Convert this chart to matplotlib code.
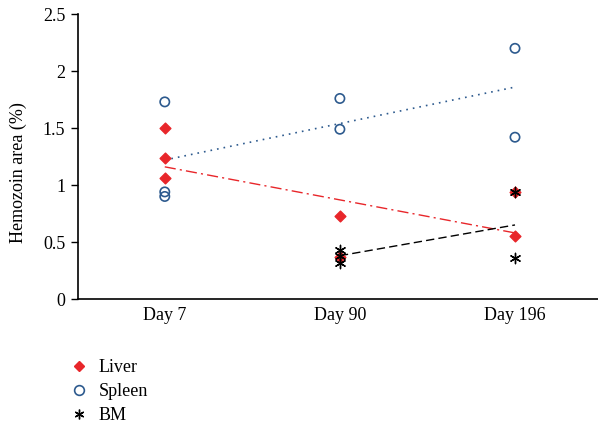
import matplotlib
matplotlib.use("Agg")
import matplotlib.pyplot as plt
from matplotlib.lines import Line2D

plt.rcParams['font.family'] = ['Liberation Serif', 'DejaVu Serif']

categories = ["Day 7", "Day 90", "Day 196"]

liver_x = [0, 0, 0, 1, 1, 2, 2]
liver_y = [1.50, 1.24, 1.06, 0.73, 0.37, 0.55, 0.94]
spleen_x = [0, 0, 0, 1, 1, 2, 2]
spleen_y = [1.73, 0.94, 0.90, 1.76, 1.49, 2.20, 1.42]
bm_x = [1, 1, 1, 2, 2]
bm_y = [0.43, 0.38, 0.32, 0.94, 0.36]

# trend line endpoints
liver_trend_x = [0, 2]
liver_trend_y = [1.16, 0.58]
spleen_trend_x = [0, 2]
spleen_trend_y = [1.22, 1.86]
bm_trend_x = [1, 2]
bm_trend_y = [0.38, 0.65]

fig = plt.figure(figsize=(5.98, 4.29), dpi=100)
ax = fig.add_axes([0.130, 0.303, 0.870, 0.664])

red = '#e8262a'
blue = '#2d5a8e'

ax.plot(spleen_trend_x, spleen_trend_y, linestyle=(0, (1, 3)), color=blue, lw=1.2)
ax.plot(liver_trend_x, liver_trend_y, linestyle=(0, (8, 3, 1.5, 3)), color=red, lw=1.0)
ax.plot(bm_trend_x, bm_trend_y, linestyle=(0, (6, 3)), color='black', lw=1.0)

ax.scatter(spleen_x, spleen_y, marker='o', s=45, facecolors='none', edgecolors=blue, linewidths=1.2, zorder=3)
ax.scatter(liver_x, liver_y, marker='D', s=30, color=red, zorder=4)
ax.scatter(bm_x, bm_y, marker=(6, 2, 0), s=55, color='black', linewidths=1.0, zorder=5)

ax.set_xlim(-0.497, 2.474)
ax.set_ylim(0, 2.5)
ax.set_xticks(range(len(categories)))
ax.set_xticklabels(categories, fontsize=13)
ax.tick_params(axis='x', length=0, pad=6)
ax.set_yticks([0, 0.5, 1, 1.5, 2, 2.5])
ax.set_yticklabels(['0', '0.5', '1', '1.5', '2', '2.5'], fontsize=13)
ax.tick_params(axis='y', direction='out', length=5, width=1, pad=4)
ax.spines['top'].set_visible(False)
ax.spines['right'].set_visible(False)
ax.spines['left'].set_linewidth(1.2)
ax.spines['bottom'].set_linewidth(1.2)
ax.set_ylabel('Hemozoin area (%)', fontsize=13)
ax.yaxis.set_label_coords(-0.098, 0.445)

handles = [
    Line2D([], [], marker='D', linestyle='none', color=red, markersize=5),
    Line2D([], [], marker='o', linestyle='none', markerfacecolor='none', markeredgecolor=blue, markersize=7, markeredgewidth=1.2),
    Line2D([], [], marker=(6, 2, 0), linestyle='none', color='black', markersize=7),
]
fig.legend(handles, ['Liver', 'Spleen', 'BM'], loc='upper left', bbox_to_anchor=(0.105, 0.179),
           frameon=False, fontsize=13, handlelength=1.0, handletextpad=0.6, labelspacing=0.38, borderaxespad=0)

fig.savefig('out.png', dpi=100)
